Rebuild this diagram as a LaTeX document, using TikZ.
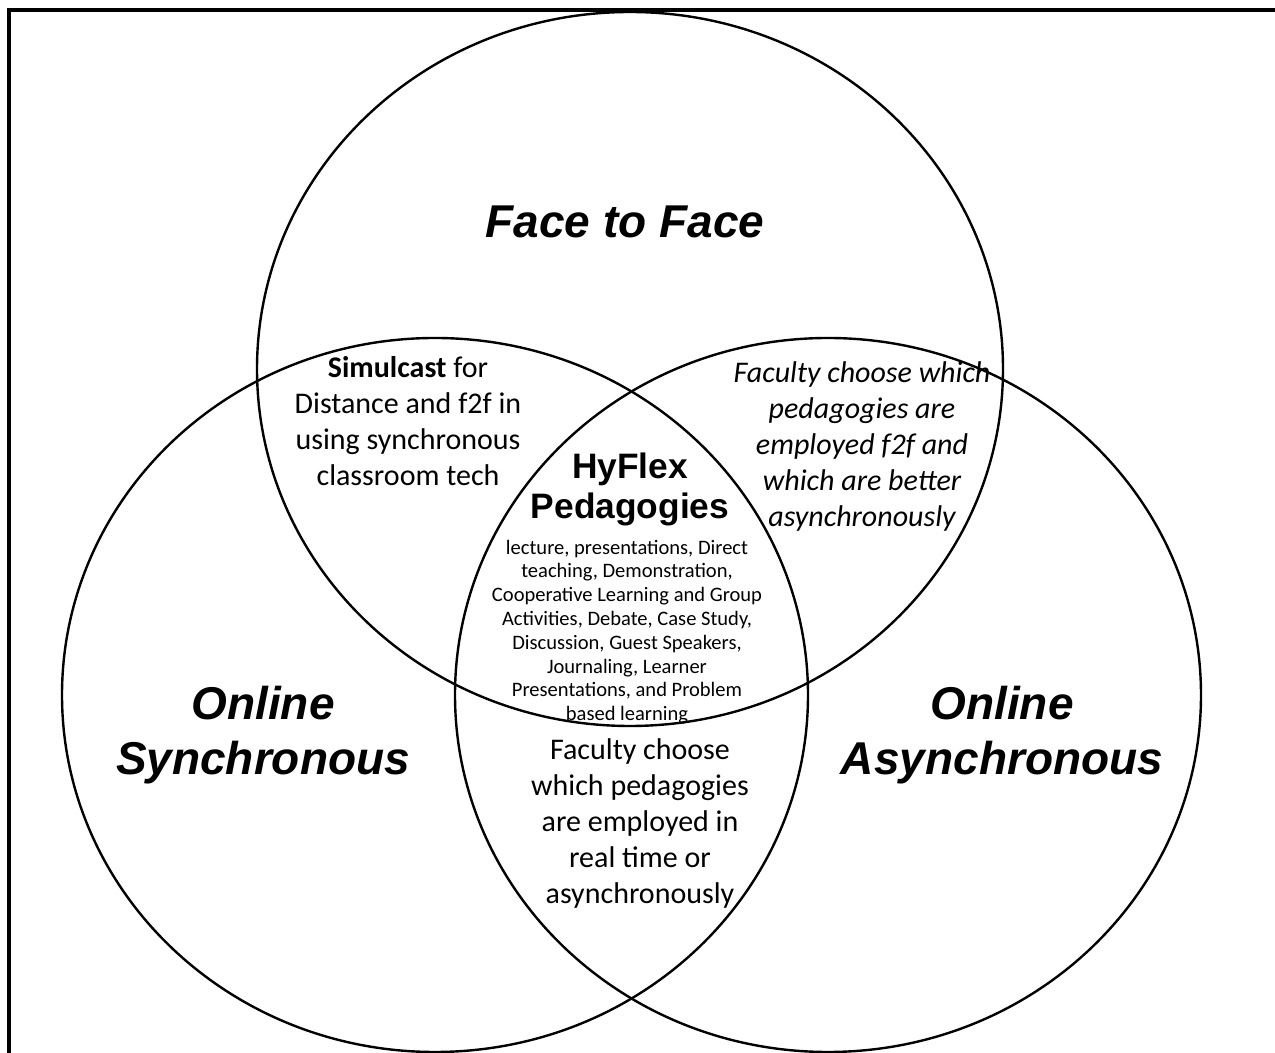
\documentclass[tikz,border=0pt]{standalone}
\usepackage{fontspec}
\setmainfont{Carlito}
\newfontfamily\arialf{Liberation Sans}
\begin{document}
\begin{tikzpicture}[x=0.75pt,y=0.75pt,
  venn/.style={line width=1.8pt},
  frame/.style={line width=2.3pt},
  region/.style={font=\arialf\bfseries\itshape\fontsize{34.5}{41.4}\selectfont, align=center, inner sep=0pt},
  hyflex/.style={font=\arialf\bfseries\fontsize{26.5}{30}\selectfont, align=center, inner sep=0pt},
  body/.style={font=\fontsize{22.5}{27}\selectfont, align=center, inner sep=0pt},
  bodyit/.style={font=\itshape\fontsize{22.5}{27}\selectfont, align=center, inner sep=0pt},
  small/.style={font=\fontsize{15.4}{17.85}\selectfont, align=center, inner sep=0pt}]
\useasboundingbox (0,0) rectangle (1275,1053);
\clip (0,0) rectangle (1275,1053);
\draw[frame] (9,1043) rectangle (1300,-30);
% circles
\draw[venn] (630,684) ellipse [x radius=373, y radius=357];
\draw[venn] (435,358) ellipse [x radius=373, y radius=357];
\draw[venn] (828,358) ellipse [x radius=373, y radius=357];
% region titles
\node[region] (f2f) at (625,831) {Face to Face};
\node[region] (osync) at (263,318) {Online\\Synchronous};
\node[region] (oasync) at (1002,318) {Online\\Asynchronous};
% overlaps
\node[body] (simul) at (408,632) {\textbf{Simulcast} for\\Distance and f2f in\\using synchronous\\classroom tech};
\node[bodyit] (facf2f) at (862,606) {Faculty choose which\\pedagogies are\\employed f2f and\\which are better\\asynchronously};
\node[body] (facrt) at (640,229) {Faculty choose\\which pedagogies\\are employed in\\real time or\\asynchronously};
% centre
\node[hyflex] (hy) at (630,564) {HyFlex\\Pedagogies};
\node[small] (list) at (627,421) {lecture, presentations, Direct\\teaching, Demonstration,\\Cooperative Learning and Group\\Activities, Debate, Case Study,\\Discussion, Guest Speakers,\\Journaling, Learner\\Presentations, and Problem\\based learning};
\end{tikzpicture}
\end{document}
